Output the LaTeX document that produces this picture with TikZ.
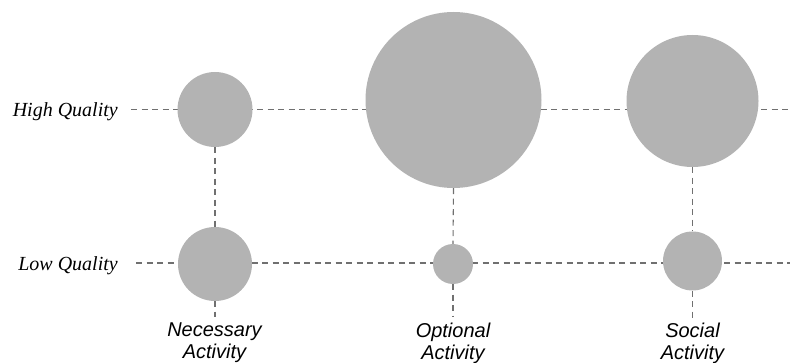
\documentclass[tikz,border=0pt]{standalone}
\usepackage{fontspec}
\setmainfont{Liberation Serif}
\newfontfamily\lsans{Liberation Sans}
\usetikzlibrary{backgrounds}
\definecolor{bubble}{HTML}{B3B3B3}
\definecolor{dashcol}{HTML}{707070}
\begin{document}
\begin{tikzpicture}[x=1pt,y=-1pt,
  bubblenode/.style={circle,fill=bubble,draw=none,inner sep=0pt},
  dline/.style={draw=dashcol,line width=1.1pt,dash pattern=on 6pt off 4.5pt},
  rowlabel/.style={font=\fontsize{20}{22}\selectfont\itshape,inner sep=0pt,anchor=base east},
  collabel/.style={font=\lsans\fontsize{20}{22}\selectfont\itshape,align=center,inner sep=0pt,anchor=north}]
\useasboundingbox (0,0) rectangle (790,363);
% row labels
\node[rowlabel] (hq) at (118,116.7) {High Quality};
\node[rowlabel] (lq) at (118,270.2) {Low Quality};
% bubbles
\node[bubblenode,minimum size=75pt] (n1) at (215,109.5) {};
\node[bubblenode,minimum size=176pt] (o1) at (453.5,100) {};
\node[bubblenode,minimum size=132pt] (s1) at (692.5,101) {};
\node[bubblenode,minimum size=74pt] (n2) at (215,264) {};
\node[bubblenode,minimum size=40pt] (o2) at (453,264) {};
\node[bubblenode,minimum size=59pt] (s2) at (692.5,261) {};
% column labels
\node[collabel] (nl) at (214.5,322.7) {Necessary\\Activity};
\node[collabel] (ol) at (453,322.7) {Optional\\Activity};
\node[collabel] (sl) at (692.5,322.7) {Social\\Activity};
% line ends
\coordinate (hs) at (131,109.5);
\coordinate (he) at (790,109.5);
\coordinate (ls) at (136,263);
\coordinate (le) at (790,263);
\coordinate (ne) at (215,317);
\coordinate (oe) at (453,316);
\coordinate (se) at (692.5,318);
\begin{pgfonlayer}{background}
\draw[dline] (hs) -- (he);
\draw[dline] (ls) -- (le);
\draw[dline] (n1.south) -- (n2.north);
\draw[dline] (n2.south) -- (ne);
\draw[dline] (o1.south) -- (o2.north);
\draw[dline] (o2.south) -- (oe);
\draw[dline] (s1.south) -- (s2.north);
\draw[dline] (s2.south) -- (se);
\end{pgfonlayer}
\end{tikzpicture}
\end{document}
